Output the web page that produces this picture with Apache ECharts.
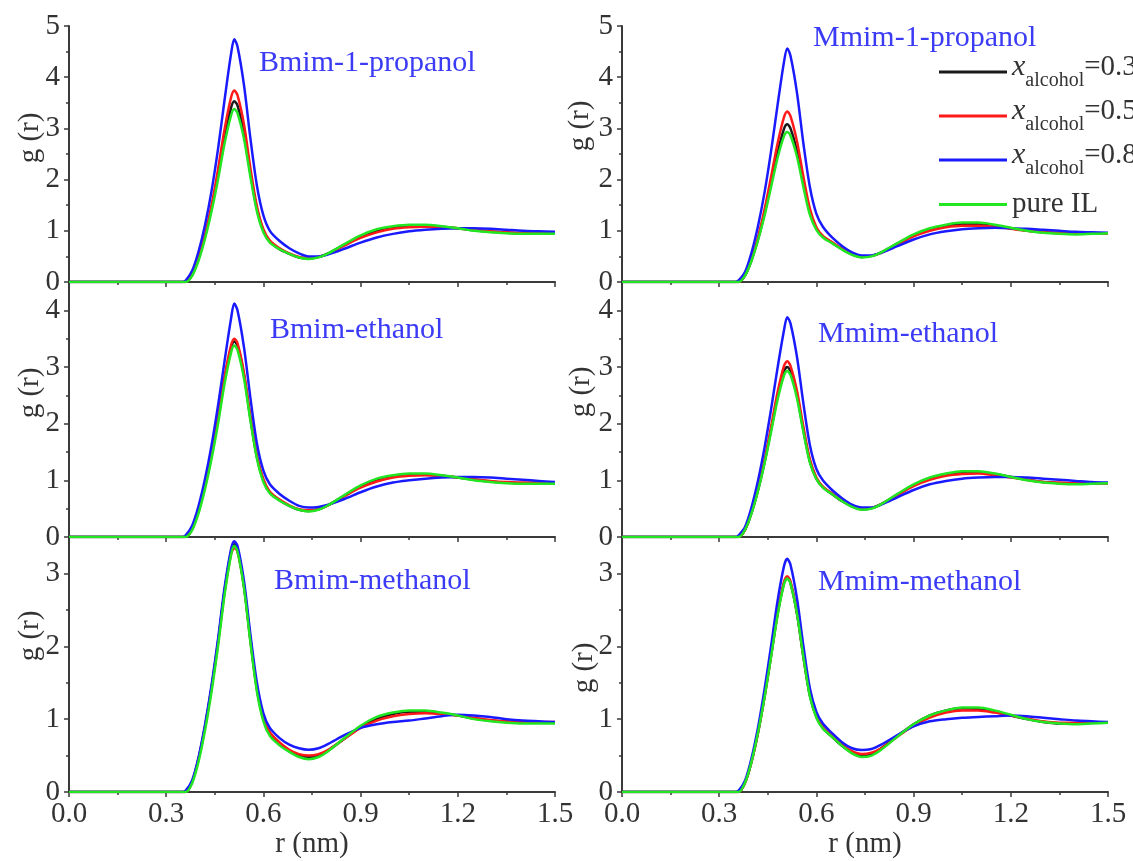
<!DOCTYPE html>
<html>
<head>
<meta charset="utf-8">
<title>g(r) Bmim / Mmim + alcohol</title>
<script src="https://cdn.jsdelivr.net/npm/echarts@6.0.0/dist/echarts.min.js"></script>
<style>
  html, body { margin: 0; padding: 0; background: #fff; }
  #main { width: 1133px; height: 861px; }
</style>
</head>
<body>
<div id="main"></div>
<script>
// r grid (nm), shared by every curve
const r = [0, 0.30, 0.35, 0.36, 0.38, 0.40, 0.42, 0.44, 0.46, 0.48, 0.50, 0.51, 0.52, 0.54, 0.56, 0.58,
  0.60, 0.62, 0.65, 0.68, 0.71, 0.74, 0.77, 0.80, 0.85, 0.90, 0.95, 1.00, 1.05, 1.10, 1.15, 1.20,
  1.25, 1.30, 1.35, 1.40, 1.45, 1.50];

// pure IL (same in every panel of one cation)
const bmimPure = [0,0,0,0,0.12,0.42,0.85,1.38,2.0,2.7,3.25,3.38,3.3,2.8,2.05,1.38,0.97,0.77,0.64,0.55,0.48,0.45,0.48,0.56,0.74,0.91,1.03,1.09,1.12,1.12,1.09,1.05,1.0,0.97,0.95,0.94,0.94,0.94];
const mmimPure = [0,0,0,0,0.13,0.42,0.82,1.3,1.85,2.42,2.85,2.93,2.86,2.45,1.85,1.31,1.02,0.87,0.75,0.63,0.53,0.48,0.5,0.58,0.76,0.93,1.05,1.12,1.16,1.16,1.12,1.06,1.0,0.96,0.94,0.93,0.94,0.95];

// Bmim-1-propanol
const bProp03 = [0,0,0,0,0.14,0.46,0.9,1.45,2.1,2.82,3.4,3.53,3.45,2.92,2.12,1.42,1.0,0.79,0.64,0.55,0.48,0.46,0.49,0.56,0.73,0.89,1.0,1.07,1.1,1.1,1.08,1.05,1.01,0.98,0.96,0.95,0.95,0.95];
const bProp05 = [0,0,0,0,0.15,0.48,0.93,1.5,2.2,2.98,3.6,3.74,3.65,3.08,2.22,1.48,1.03,0.81,0.66,0.56,0.49,0.47,0.49,0.55,0.71,0.86,0.97,1.04,1.07,1.08,1.07,1.05,1.02,0.99,0.97,0.96,0.96,0.96];
const bProp08 = [0,0,0,0.03,0.22,0.6,1.12,1.78,2.6,3.55,4.45,4.74,4.6,3.85,2.8,1.88,1.3,1.0,0.8,0.66,0.56,0.5,0.5,0.54,0.65,0.77,0.87,0.94,0.99,1.02,1.04,1.05,1.05,1.04,1.02,1.0,0.99,0.98];

// Bmim-ethanol
const bEth03 = [0,0,0,0,0.14,0.46,0.9,1.44,2.08,2.78,3.33,3.45,3.38,2.86,2.09,1.41,1.0,0.79,0.65,0.55,0.48,0.46,0.49,0.56,0.73,0.89,1.0,1.07,1.1,1.1,1.08,1.05,1.01,0.98,0.96,0.95,0.95,0.95];
const bEth05 = [0,0,0,0,0.14,0.47,0.91,1.46,2.12,2.83,3.38,3.5,3.42,2.9,2.12,1.43,1.02,0.8,0.66,0.56,0.49,0.47,0.49,0.56,0.72,0.87,0.98,1.05,1.08,1.09,1.08,1.05,1.02,0.99,0.97,0.96,0.96,0.96];
const bEth08 = [0,0,0,0.03,0.2,0.55,1.03,1.62,2.32,3.1,3.85,4.12,4.0,3.35,2.45,1.65,1.17,0.93,0.76,0.64,0.55,0.52,0.53,0.57,0.67,0.79,0.89,0.96,1.0,1.03,1.05,1.06,1.06,1.05,1.03,1.01,0.99,0.97];

// Bmim-methanol
const bMeth03 = [0,0,0,0,0.14,0.46,0.9,1.43,2.06,2.76,3.3,3.4,3.33,2.83,2.08,1.41,1.0,0.8,0.66,0.56,0.5,0.48,0.5,0.57,0.73,0.89,1.0,1.07,1.1,1.1,1.08,1.05,1.01,0.98,0.96,0.95,0.95,0.95];
const bMeth05 = [0,0,0,0,0.14,0.46,0.9,1.43,2.05,2.74,3.26,3.35,3.3,2.83,2.09,1.43,1.02,0.82,0.68,0.58,0.52,0.5,0.52,0.58,0.73,0.88,0.98,1.04,1.07,1.08,1.07,1.05,1.02,0.99,0.97,0.96,0.96,0.96];
const bMeth08 = [0,0,0,0.02,0.16,0.48,0.93,1.47,2.1,2.8,3.33,3.44,3.38,2.9,2.16,1.5,1.08,0.88,0.74,0.65,0.6,0.58,0.6,0.66,0.78,0.88,0.93,0.96,0.98,1.01,1.04,1.06,1.05,1.03,1.0,0.98,0.97,0.96];

// Mmim-1-propanol
const mProp03 = [0,0,0,0,0.13,0.43,0.84,1.34,1.92,2.52,2.99,3.08,3.0,2.56,1.93,1.36,1.04,0.89,0.76,0.64,0.54,0.49,0.51,0.58,0.75,0.91,1.03,1.1,1.13,1.13,1.1,1.05,1.0,0.97,0.95,0.94,0.95,0.95];
const mProp05 = [0,0,0,0,0.14,0.45,0.88,1.42,2.05,2.7,3.22,3.33,3.24,2.75,2.05,1.43,1.07,0.9,0.77,0.65,0.55,0.5,0.51,0.57,0.73,0.89,1.0,1.07,1.1,1.1,1.08,1.04,1.0,0.97,0.96,0.95,0.95,0.95];
const mProp08 = [0,0,0,0.03,0.2,0.58,1.1,1.75,2.55,3.45,4.3,4.56,4.42,3.7,2.7,1.85,1.33,1.08,0.86,0.7,0.58,0.52,0.52,0.57,0.7,0.83,0.93,0.99,1.03,1.05,1.06,1.05,1.04,1.02,1.0,0.98,0.97,0.96];

// Mmim-ethanol
const mEth03 = [0,0,0,0,0.13,0.43,0.83,1.32,1.89,2.47,2.92,3.0,2.93,2.5,1.88,1.33,1.03,0.88,0.75,0.63,0.54,0.49,0.51,0.58,0.75,0.91,1.03,1.1,1.14,1.14,1.11,1.06,1.01,0.97,0.95,0.94,0.95,0.95];
const mEth05 = [0,0,0,0,0.13,0.44,0.85,1.36,1.94,2.55,3.02,3.1,3.02,2.58,1.94,1.37,1.05,0.89,0.76,0.64,0.55,0.5,0.51,0.58,0.74,0.9,1.01,1.08,1.11,1.12,1.09,1.05,1.01,0.97,0.96,0.95,0.95,0.95];
const mEth08 = [0,0,0,0.03,0.18,0.53,1.0,1.58,2.25,2.98,3.65,3.88,3.77,3.18,2.35,1.62,1.2,1.0,0.82,0.68,0.57,0.52,0.52,0.57,0.7,0.83,0.93,0.99,1.03,1.05,1.06,1.06,1.05,1.03,1.01,0.99,0.97,0.96];

// Mmim-methanol
const mMeth03 = [0,0,0,0,0.13,0.42,0.82,1.31,1.87,2.44,2.87,2.94,2.87,2.45,1.85,1.32,1.03,0.88,0.75,0.63,0.54,0.5,0.52,0.6,0.77,0.93,1.05,1.12,1.15,1.14,1.1,1.05,1.0,0.96,0.94,0.94,0.95,0.95];
const mMeth05 = [0,0,0,0,0.13,0.42,0.82,1.31,1.87,2.45,2.88,2.96,2.89,2.47,1.87,1.34,1.05,0.89,0.77,0.65,0.56,0.52,0.54,0.6,0.76,0.91,1.02,1.09,1.12,1.12,1.09,1.05,1.01,0.97,0.95,0.95,0.95,0.95];
const mMeth08 = [0,0,0,0.02,0.16,0.47,0.89,1.41,2.0,2.62,3.1,3.2,3.12,2.66,2.0,1.42,1.1,0.94,0.8,0.68,0.6,0.575,0.59,0.65,0.78,0.9,0.97,1.0,1.02,1.03,1.04,1.05,1.04,1.02,1.0,0.98,0.97,0.96];

const seriesNames = ['x=0.3', 'x=0.5', 'x=0.8', 'pure IL'];
const panelTitles = ['Bmim-1-propanol', 'Bmim-ethanol', 'Bmim-methanol',
  'Mmim-1-propanol', 'Mmim-ethanol', 'Mmim-methanol'];
const panelCurves = [
  [bProp03, bProp05, bProp08, bmimPure],
  [bEth03, bEth05, bEth08, bmimPure],
  [bMeth03, bMeth05, bMeth08, bmimPure],
  [mProp03, mProp05, mProp08, mmimPure],
  [mEth03, mEth05, mEth08, mmimPure],
  [mMeth03, mMeth05, mMeth08, mmimPure],
];
const yMax = [5, 4.5, 3.5];

const FONT = '"Liberation Serif", "Times New Roman", serif';
const AXIS = '#3a3a3a';
const TXT = '#333';
const colors = ['#1a1a1a', '#ff1a1a', '#1a1aff', '#22e622'];

// layout of the 2 x 3 panels
const colLeft = [69, 622];
const rowTop = [26, 282, 537];
const rowH = [256, 255, 255];
const titlePos = [[259, 48], [270, 315], [274, 566], [813, 23], [818, 319], [818, 567]];
const yNamePos = [[30, 138], [30, 393], [30, 636], [580, 126], [581, 392], [584, 668]];

const chart = echarts.init(document.getElementById('main'));

const grid = [], xAxis = [], yAxis = [], series = [], title = [], graphic = [];
for (let i = 0; i < 6; i++) {
  const c = Math.floor(i / 3), rw = i % 3;
  grid.push({ left: colLeft[c], top: rowTop[rw], width: 486, height: rowH[rw] });
  const tick = { show: true, length: 5, lineStyle: { color: AXIS, width: 1.5 } };
  const minor = { show: true, splitNumber: 2, length: 3, lineStyle: { color: AXIS, width: 1.5 } };
  xAxis.push({
    type: 'value', gridIndex: i, min: 0, max: 1.5, interval: 0.3,
    axisLine: { onZero: false, lineStyle: { color: AXIS, width: 2 } },
    axisTick: tick, minorTick: minor, splitLine: { show: false },
    axisLabel: { show: rw === 2, margin: 8, color: TXT, fontFamily: FONT, fontSize: 29,
      formatter: v => v.toFixed(1) },
    name: rw === 2 ? 'r (nm)' : '', nameLocation: 'middle', nameGap: c === 0 ? 30 : 36,
    nameTextStyle: { color: TXT, fontFamily: FONT, fontSize: 29 }
  });
  yAxis.push({
    type: 'value', gridIndex: i, min: 0, max: yMax[rw], interval: 1,
    axisLine: { show: true, lineStyle: { color: AXIS, width: 2 } },
    axisTick: tick, minorTick: minor, splitLine: { show: false },
    axisLabel: { margin: 9, color: TXT, fontFamily: FONT, fontSize: 29, showMaxLabel: rw === 0 }
  });
  title.push({
    text: panelTitles[i], left: titlePos[i][0], top: titlePos[i][1], padding: 0,
    textStyle: { color: '#3b3bf6', fontFamily: FONT, fontSize: 30, fontWeight: 'normal' }
  });
  graphic.push({
    type: 'text', x: yNamePos[i][0], y: yNamePos[i][1], rotation: Math.PI / 2,
    style: { text: 'g (r)', fill: TXT, font: '29px ' + FONT, align: 'center', verticalAlign: 'middle',
      textAlign: 'center', textVerticalAlign: 'middle' }
  });
  panelCurves[i].forEach((vals, k) => {
    series.push({
      type: 'line', name: seriesNames[k], xAxisIndex: i, yAxisIndex: i,
      data: r.map((x, j) => [x, vals[j]]),
      showSymbol: false, smooth: 0.3, z: 2 + k,
      lineStyle: { width: 2.5, color: colors[k] }, itemStyle: { color: colors[k] }
    });
  });
}

chart.setOption({
  animation: false,
  color: colors,
  title: title,
  grid: grid,
  xAxis: xAxis,
  yAxis: yAxis,
  graphic: graphic,
  legend: {
    data: seriesNames, orient: 'vertical', left: 939, top: 52, padding: 0, itemGap: 4,
    itemWidth: 68, itemHeight: 3, icon: 'rect',
    formatter: name => name === 'pure IL'
      ? '{p|pure IL}'
      : '{x|x}{sub|alcohol}{n|=' + name.split('=')[1] + '}',
    textStyle: {
      color: TXT, fontFamily: FONT,
      rich: {
        x: { fontFamily: FONT, fontStyle: 'italic', fontSize: 30, lineHeight: 34, padding: [0, 0, 10, 0], color: TXT },
        sub: { fontFamily: FONT, fontSize: 20, lineHeight: 24, padding: [18, 0, 0, 0], color: TXT },
        n: { fontFamily: FONT, fontSize: 29, lineHeight: 34, padding: [0, 0, 10, 0], color: TXT },
        p: { fontFamily: FONT, fontSize: 29, lineHeight: 34, padding: [6, 0, 6, 0], color: TXT }
      }
    }
  },
  series: series
});
</script>
</body>
</html>
